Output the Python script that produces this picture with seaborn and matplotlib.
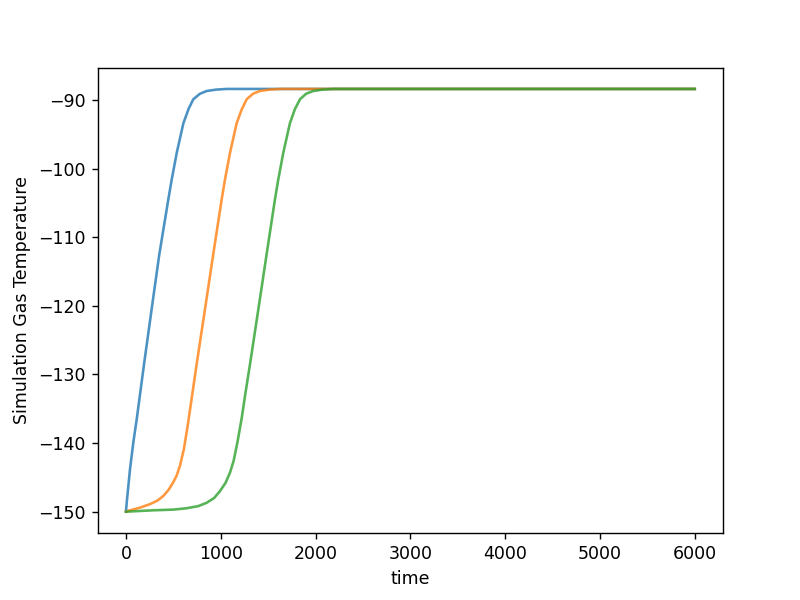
import matplotlib
matplotlib.use("Agg")
import matplotlib.pyplot as plt
import pandas as pd
import seaborn as sns

# values
time_1 = [0, 1, 7, 42, 77, 113, 190, 270, 350, 446, 482, 535, 605, 660, 710, 780, 851, 950,
          1062, 2000, 6000]
temp_1 = [-150, -149.7, -148.7, -143.8, -139.9, -136.5, -128.5, -120.5, -112.6, -104.5, -101.6,
          -97.7, -93.4, -91.3, -89.9, -89.1, -88.7, -88.5, -88.4, -88.4, -88.4]

time_2 = [0, 42, 150, 253, 330, 394, 450, 499, 535, 569, 610, 650, 700, 745, 833, 920, 1009,
          1044, 1097, 1167, 1220, 1273, 1340, 1413, 1510, 1624, 3000, 6000]
temp_2 = [-150, -149.8, -149.4, -148.9, -148.4, -147.7, -146.8, -145.7, -144.7, -143.3, -140.9,
          -137.5, -132.8, -128.5, -120.5, -112.5, -104.5, -101.6, -97.7, -93.4, -91.4, -89.9,
          -89.1, -88.7, -88.5, -88.4, -88.4, -88.4]

time_3 = [0, 288, 500, 640, 760, 851, 930, 991, 1050, 1097, 1135, 1175, 1220, 1260, 1308, 1396,
          1483, 1571, 1606, 1659, 1729, 1780, 1835, 1900, 1975, 2070, 2186, 4000, 6000]
temp_3 = [-150, -149.8, -149.7, -149.5, -149.2, -148.7, -148.0, -147.0, -145.8, -144.3, -142.6,
          -139.9, -136.4, -132.7, -128.5, -120.5, -112.5, -104.5, -101.6, -97.7, -93.4, -91.4,
          -89.9, -89.1, -88.7, -88.5, -88.4, -88.4, -88.4]

runs = ["run 1", "run 2", "run 3"]

frames = []
for name, t, y in zip(runs, [time_1, time_2, time_3], [temp_1, temp_2, temp_3]):
    frames.append(pd.DataFrame({"time": t, "temp": y, "run": name}))
df = pd.concat(frames, ignore_index=True)

# 6.4x4.8 at 125 dpi -> 800x600
fig, ax = plt.subplots(figsize=(6.4, 4.8), dpi=125)
fig.subplots_adjust(left=0.122, right=0.904, top=0.887, bottom=0.112)

sns.lineplot(
    data=df,
    x="time",
    y="temp",
    hue="run",
    palette=sns.color_palette("tab10", 3),
    linewidth=1.5,
    alpha=0.8,
    legend=False,
    ax=ax,
)

ax.set_xlabel("time")
ax.set_ylabel("Simulation Gas Temperature")

fig.savefig("out.png", dpi=125)
